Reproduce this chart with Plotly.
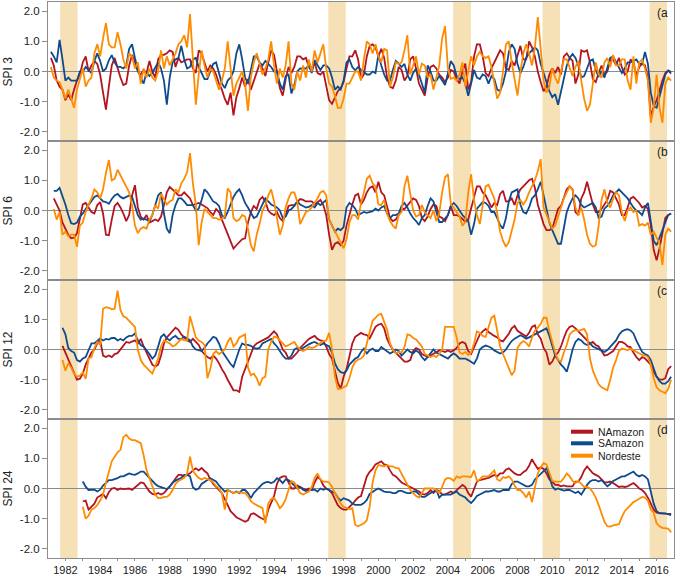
import plotly.graph_objects as go
from plotly.subplots import make_subplots

# time grid: every second month, 1981-2016
YEARS = list(range(1981, 2017))
MONTHS = [1, 3, 5, 7, 9, 11]
T = [y + (m - 1) / 12 for y in YEARS for m in MONTHS]

_ = None
# ---------------- SPI 3 ----------------
N3 = [_, 0.45, 0.2, -0.3, -0.5, -0.6,
      -0.95, -0.75, -0.95, -0.6, -0.3, -0.1,
      0.3, 0.5, 0.0, 0.2, 0.35, 0.25,
      -0.1, -0.7, -1.26, -0.5, 0.2, 0.45,
      0.1, -0.2, -0.45, -0.4, 0.2, 0.55,
      0.3, 0.0, -0.1, 0.05, -0.05, 0.35,
      0.0, -0.2, 0.4, 0.55, 0.55, 0.6,
      0.7, 0.65, 0.15, 0.45, 0.3, 0.35,
      0.4, 0.4, 0.1, -0.05, 0.7, 0.6,
      0.3, 0.0, 0.2, 0.1, -0.1, -0.4,
      -0.6, -0.9, -1.1, -0.7, -1.45, -0.85,
      -0.55, -0.2, -0.5, -0.25, -0.6, -0.3,
      0.0, 0.25, 0.1, -0.15, 0.3, 0.7,
      0.55, 0.0, -0.55, -0.8, -0.25, 0.15,
      -0.05, 0.15, 0.5, 0.5, 0.4, 0.45,
      0.15, 0.05, 0.3, -0.05, -0.1, 0.0,
      -0.5, -0.95, -1.07, -0.85, -0.65, -0.55,
      -0.35, 0.1, 0.5, 0.5, 0.7, 0.4,
      -0.25, -0.1, 0.5, 0.85, 0.9, 0.8,
      0.5, 0.75, 0.45, -0.2, -0.5, -0.55,
      -0.3, 0.15, 0.05, -0.3, -0.15, 0.4,
      0.5, 0.1, -0.4, -0.6, -0.8, -0.2,
      0.15, 0.2, 0.1, -0.1, -0.2, -0.35,
      -0.2, 0.05, 0.0, -0.25, -0.4, 0.0,
      0.26, -0.6, -0.35, 0.5, 0.9, 0.9,
      0.5, -0.05, -0.15, 0.1, 0.3, 0.5,
      0.7, 0.6, 0.1, 0.05, 0.35, 0.2,
      0.55, 0.85, 0.4, 0.4, 1.0, 0.8,
      0.5, 0.0, -0.35, -0.65, -0.5, -0.1,
      0.1, -0.05, 0.15, -0.1, 0.5, 0.6,
      0.45, 0.35, -0.4, -0.1, 0.7, 0.65,
      0.7, 0.3, -0.25, -0.35, -0.05, 0.2,
      -0.1, 0.0, 0.4, 0.4, 0.2, 0.45,
      0.15, -0.1, 0.0, 0.4, 0.3, -0.15,
      0.15, 0.25, 0.2, -0.2, -1.5, -1.17,
      -0.95, -0.6, -0.3, -0.05, 0.03, -0.07]
S3 = [_, 0.65, 0.5, 0.3, 1.05, 0.4,
      -0.3, -0.2, -0.3, -0.3, -0.3, 0.0,
      0.0, 0.15, 0.04, -0.05, 0.35, 0.6,
      0.35, 0.0, 0.1, 0.37, 0.54, 0.3,
      0.15, 0.15, 0.1, 0.2, 0.75, 0.9,
      0.45, 0.05, -0.2, -0.4, 0.0, -0.15,
      -0.05, 0.15, 0.3, 0.1, -0.3, -1.1,
      -0.2, 0.3, 0.4, 0.45, 0.85, 0.4,
      0.1, 0.15, 0.4, 0.45, 0.15, -0.05,
      -0.25, -0.25, 0.0, 0.25, 0.3, -0.05,
      -0.4, -0.55, -0.3, -0.2, 0.0, 0.6,
      0.9, 0.4, -0.2, -0.4, 0.1, 0.5,
      0.5, 0.3, 0.2, 0.35, 0.25, 0.15,
      0.0, 0.0, -0.4, -0.6, -0.15, -0.1,
      -0.73, -0.45, 0.0, 0.1, 0.1, 0.1,
      0.2, -0.05, 0.37, 0.2, 0.05, 0.2,
      0.2, 0.1, -0.2, -0.6, -0.5, -0.6,
      -0.3, 0.3, 0.4, 0.15, 0.04, 0.15,
      0.05, 0.0, -0.1, -0.1, 0.0, -0.05,
      0.55, 0.2, -0.1, -0.3, -0.3, 0.05,
      0.35, 0.26, 0.15, 0.25, -0.1, -0.3,
      -0.05, 0.1, -0.1, -0.4, -0.7, 0.2,
      0.0, -0.3, -0.3, -0.15, -0.3, -0.45,
      -0.05, 0.35, 0.2, -0.15, -0.25, -0.2,
      -0.4, -0.8, -0.4, 0.05, -0.2, -0.25,
      -0.1, -0.15, -0.4, -0.15, -0.25, -0.6,
      -0.65, -0.4, 0.0, 0.65, 0.9, 0.75,
      0.25, -0.05, 0.15, 0.45, 0.6, 0.7,
      0.8, 0.7, 0.25, -0.05, -0.35, -0.65,
      -0.85, -0.75, -1.1, -0.7, -0.2, 0.2,
      0.45, 0.58, 0.45, 0.2, -0.2, -0.15,
      0.1, 0.35, 0.4, 0.05, -0.18, 0.02,
      -0.2, 0.1, 0.45, 0.5, 0.3, 0.15,
      -0.05, 0.1, 0.3, 0.3, 0.35, 0.4,
      0.25, 0.25, 0.65, 0.25, -0.7, -1.15,
      -1.2, -0.8, -0.45, -0.1, 0.03, -0.01]
E3 = [_, 0.15, -0.2, -0.3, -0.35, -0.6,
      -0.9, -0.6, -0.9, -1.2, -0.6, -0.2,
      0.1, -0.5, -0.3, -0.2, 0.6, 0.9,
      0.5, 1.1, 1.6, 0.9, 0.8, 0.8,
      1.3, 0.9, 0.4, 0.1, 0.6, 0.5,
      0.1, 0.3, -0.4, 0.1, -0.2, 0.1,
      -0.2, -0.3, 0.0, 0.7, 0.1, 0.5,
      0.2, 0.4, 0.6, 0.9, 1.0, 1.2,
      0.8, 1.9, 0.3, -1.1, -0.1, 0.7,
      0.2, -0.2, 0.1, 0.0, -0.3, -0.6,
      -0.3, 0.1, 1.0, 0.2, -0.8, -0.4,
      -0.2, 0.0, -0.4, -1.3, -0.2, 0.3,
      0.6, 0.3, -0.1, 0.1, 0.4, 1.0,
      0.2, -0.4, 0.1, -0.2, 0.2, 1.0,
      -0.4, -0.6, 0.0, -0.3, 0.2, -0.2,
      0.4, 0.0, 0.7, 0.3, 0.6, 0.9,
      0.1, -0.4, -0.5, -0.8, -1.2, -1.2,
      -0.9, -0.4, -0.4, -0.2, 0.0, 0.0,
      -0.3, 0.4, 1.0, 0.9, 0.6, 0.9,
      0.5, 0.3, 0.75, 0.7, -0.5, -0.2,
      0.3, 0.25, 0.3, 0.7, 1.2, -0.1,
      0.2, 0.5, -0.1, 0.26, 0.2, -0.2,
      -0.1, -0.6, -0.2, 0.2, 1.1, 1.5,
      0.1, -0.25, -0.2, -0.3, -0.1, 0.3,
      -0.5, -0.05, 0.5, 0.2, 0.5, 0.65,
      0.5, 0.45, 0.5, 0.15, -0.35, -0.9,
      -0.7, 0.0, 0.9, 1.0, 0.3, -0.3,
      -0.8, 0.0, 0.6, 0.9, 0.6, 0.2,
      0.8, 1.8, 0.6, -0.3, -0.7, -0.5,
      0.1, -0.2, -0.4, 0.0, 0.4, 0.4,
      0.1, -0.15, 0.15, 0.35, -0.3, -0.9,
      -1.3, -1.1, -0.4, 0.3, -0.1, -0.2,
      0.3, 0.45, 0.15, 0.55, 0.2, 0.2,
      0.4, 0.4, -0.3, -0.6, 0.5, -0.4,
      0.3, 0.4, 0.1, -0.3, -1.7, -1.2,
      -0.1, -1.2, -1.7, -0.4, -0.2, -0.3]

# ---------------- SPI 6 ----------------
N6 = [_, _, 0.4, 0.2, 0.0, -0.4,
      -0.6, -0.8, -0.92, -0.9, -0.75, -0.3,
      0.2, 0.25, 0.1, -0.05, -0.1, 0.18,
      0.28, -0.1, -0.8, -0.82, -0.3, 0.15,
      0.25, 0.1, -0.1, -0.35, -0.15, 0.5,
      0.84, 0.1, -0.2, -0.3, -0.15, -0.4,
      -0.35, -0.3, -0.35, -0.2, 0.18, 0.6,
      0.78, 0.7, 0.6, 0.5, 0.5, 0.6,
      0.5, 0.4, 0.18, 0.22, 0.25, 0.2,
      0.15, 0.08, -0.05, -0.15, 0.05, -0.05,
      -0.3, -0.55, -0.8, -1.05, -1.26, -1.15,
      -1.05, -0.95, -0.92, -0.4, -0.05, 0.15,
      0.05, 0.35, 0.45, 0.3, 0.0, -0.1,
      -0.15, -0.05, -0.25, -0.35, -0.15, 0.15,
      0.18, 0.18, 0.28, 0.38, 0.35, 0.3,
      0.3, 0.3, 0.2, 0.28, 0.35, 0.18,
      -0.15, -0.8, -1.3, -1.1, -1.05, -1.15,
      -1.0, -0.5, -0.1, 0.2, 0.5, 0.55,
      0.2, 0.35, 0.6, 0.75, 0.8, 0.6,
      0.95, 0.6, 0.5, 0.1, -0.25, -0.35,
      -0.3, -0.15, 0.05, 0.05, 0.18, 0.28,
      0.4, 0.35, 0.15, -0.25, -0.35, -0.2,
      0.05, 0.2, 0.15, -0.2, -0.25, -0.35,
      -0.15, 0.15, -0.15, -0.15, -0.2, -0.28,
      -0.38, -0.3, 0.1, 0.45, 0.8, 0.8,
      0.6, 0.5, 0.3, 0.1, 0.25, 0.18,
      0.55, 0.65, 0.3, 0.3, 0.4, 0.18,
      0.5, 0.7, 0.8, 0.9, 1.0, 1.05,
      0.75, 0.2, -0.1, -0.45, -0.65, -0.65,
      -0.6, -0.3, 0.05, 0.15, 0.45, 0.7,
      0.8, 0.7, -0.05, -0.15, 0.4, 0.6,
      0.95, 0.6, 0.2, -0.05, -0.05, 0.05,
      0.18, 0.35, 0.65, 0.6, 0.4, 0.2,
      -0.15, -0.15, 0.1, 0.4, 0.45, 0.35,
      0.25, 0.1, 0.15, 0.05, -0.5, -1.3,
      -1.65, -1.25, -0.75, -0.25, -0.15, -0.1]
S6 = [_, _, 0.65, 0.65, 0.75, 0.5,
      0.2, -0.15, -0.42, -0.45, -0.4, -0.2,
      -0.1, 0.05, 0.18, 0.28, 0.45, 0.5,
      0.4, 0.3, 0.28, 0.22, 0.38, 0.5,
      0.55, 0.45, 0.4, 0.45, 0.5, 0.45,
      0.18, -0.15, -0.3, -0.27, -0.3, -0.37,
      -0.15, 0.18, 0.5, 0.6, -0.1, -0.6,
      -0.75, -0.15, 0.18, 0.4, 0.4, 0.3,
      0.18, 0.18, 0.18, 0.0, 0.06, 0.35,
      0.7, 0.6, 0.45, 0.3, 0.25, 0.15,
      -0.15, -0.25, -0.05, 0.2, 0.45, 0.6,
      0.7, 0.5, 0.25, 0.1, -0.1, -0.25,
      -0.2, 0.0, 0.18, 0.4, 0.3, 0.2,
      0.15, 0.1, 0.0, -0.25, -0.2, 0.0,
      0.05, 0.15, 0.3, 0.2, 0.15, 0.1,
      0.12, 0.18, 0.1, 0.25, 0.18, 0.25,
      0.35, -0.3, -0.5, -0.7, -0.6, -0.65,
      -0.55, 0.1, 0.25, 0.18, 0.06, -0.15,
      -0.1, -0.05, -0.08, -0.05, -0.02, 0.06,
      0.0, 0.1, 0.15, -0.1, -0.25, -0.15,
      -0.15, -0.1, 0.15, 0.25, 0.1, -0.1,
      -0.25, -0.35, -0.48, -0.25, -0.15, 0.15,
      0.4, 0.3, 0.0, -0.38, -0.38, -0.28,
      -0.15, 0.15, 0.25, 0.15, 0.0, -0.15,
      -0.25, -0.35, -0.8, -0.45, 0.06, 0.18,
      0.28, 0.25, 0.15, -0.05, -0.05, -0.25,
      -0.48, -0.6, -0.25, 0.3, 0.6, 0.65,
      0.7, 0.2, -0.05, -0.1, 0.1, 0.4,
      0.5, 0.7, 0.95, 0.5, 0.0, -0.4,
      -0.65, -0.85, -1.1, -1.1, -0.5, -0.05,
      0.2, 0.4, 0.5, 0.4, 0.18, 0.1,
      0.15, 0.2, 0.25, 0.1, -0.25, -0.2,
      0.06, 0.15, 0.3, 0.5, 0.6, 0.7,
      0.6, 0.5, 0.4, 0.25, 0.1, 0.0,
      -0.05, -0.15, 0.1, 0.25, -0.4, -1.0,
      -1.15, -0.9, -0.6, -0.35, -0.15, -0.1]
E6 = [_, _, 0.05, -0.3, -0.05, -0.8,
      -0.7, -0.85, -0.8, -0.8, -1.2, -0.5,
      -0.4, -0.05, 0.2, 0.4, 0.7, 0.6,
      0.4, 0.7, 1.25, 1.67, 1.0, 1.05,
      1.35, 1.15, 0.95, 0.8, 0.6, 0.18,
      -0.5, -0.75, -0.6, -0.55, -0.6, -0.3,
      -0.15, 0.18, 0.06, 0.55, 0.35, 0.2,
      0.3, 0.35, 0.7, 0.6, 0.9, 1.05,
      1.27, 1.9, 0.9, 0.2, -1.15, -0.4,
      0.05, -0.05, -0.15, -0.25, -0.25, -0.3,
      -0.28, -0.2, 0.73, 0.6, -0.25, -0.35,
      -0.3, -0.15, -0.2, -0.6, -1.15, -1.35,
      -0.8, -0.45, 0.0, 0.18, 0.5, 0.7,
      0.3, -0.2, -0.8, -0.5, 0.1, 0.4,
      0.6, 0.6, 0.3, -0.45, -0.25, -0.05,
      0.0, 0.1, 0.25, 0.4, 0.6, 0.65,
      0.5, -0.3, -0.5, -0.7, -0.9, -1.1,
      -1.25, -0.95, -0.4, -0.15, -0.15, -0.3,
      0.25, 0.6, 1.05, 1.15, 0.9, 0.8,
      0.2, 0.18, 0.35, -0.1, -0.35, -0.5,
      -0.6, -0.15, -0.05, 0.8, 1.15, 0.55,
      0.0, -0.2, -0.15, 0.18, -0.05, -0.15,
      -0.25, 0.0, -0.35, -0.1, 0.6, 1.1,
      1.2, 0.2, 0.1, -0.05, -0.2, -0.5,
      -0.38, 0.6, 1.2, 0.35, -0.15, -0.45,
      0.2, 0.8, 0.85, 0.65, 0.4, -0.1,
      -0.7, -1.0, -1.2, -1.05, -0.7, -0.3,
      0.25, 0.35, 0.2, 0.35, 0.6, 0.8,
      1.0, 1.3, 1.7, 0.1, -0.15, -0.35,
      -0.6, -0.5, -0.2, 0.15, 0.4, 0.6,
      0.8, 0.7, 0.1, -0.15, 0.1, -0.3,
      -0.8, -1.1, -1.2, -1.15, -0.5, 0.35,
      0.7, 0.25, 0.1, 0.4, 0.6, 0.5,
      -0.05, -0.35, 0.0, 0.1, -0.05, 0.0,
      -0.5, -0.45, -0.5, -0.4, -0.8, -0.7,
      -0.9, -1.1, -1.8, -0.8, -0.6, -0.7]

# ---------------- SPI 12 ----------------
N12 = [_, _, _, _, _, 0.12,
       -0.1, -0.3, -0.55, -0.8, -1.0, -0.97,
       -0.8, -0.5, -0.3, -0.1, 0.0, 0.2,
       0.3, -0.2, -0.25, -0.2, -0.25, -0.15,
       -0.12, 0.0, 0.15, 0.25, 0.22, 0.25,
       0.3, 0.2, 0.35, 0.1, -0.1, -0.3,
       -0.5, -0.57, -0.5, -0.2, 0.2, 0.4,
       0.5, 0.62, 0.72, 0.65, 0.5, 0.4,
       0.3, 0.25, 0.35, 0.25, 0.15, -0.05,
       -0.15, -0.25, -0.3, -0.2, -0.3, -0.45,
       -0.65, -0.8, -1.0, -1.2, -1.35, -1.35,
       -1.4, -0.9, -0.65, -0.4, -0.1, 0.1,
       0.2, 0.25, 0.3, 0.37, 0.4, 0.5,
       0.6, 0.5, 0.25, 0.0, -0.1, -0.3,
       -0.3, -0.2, -0.1, 0.05, 0.15, 0.25,
       0.35, 0.4, 0.45, 0.35, 0.3, 0.28,
       0.1, -0.15, -0.3, -0.7, -1.1, -1.3,
       -0.9, -0.65, -0.2, 0.2, 0.42, 0.5,
       0.55, 0.5, 0.48, 0.37, 0.55, 0.75,
       0.82, 0.85, 0.7, 0.35, 0.15, 0.0,
       -0.1, -0.2, -0.3, -0.4, -0.4, -0.35,
       -0.05, 0.05, 0.0, -0.15, -0.2, -0.25,
       -0.2, -0.15, -0.1, -0.03, -0.05, -0.08,
       -0.03, -0.08, -0.03, 0.05, 0.2, 0.25,
       0.2, -0.05, -0.15, 0.05, 0.3, 0.5,
       0.6, 0.68, 0.58, 0.5, 0.45, 0.4,
       0.3, 0.27, 0.38, 0.52, 0.7, 0.78,
       0.62, 0.55, 0.48, 0.43, 0.55, 0.75,
       0.8, 0.5, 0.36, 0.05, -0.1, -0.5,
       -0.4, -0.2, -0.1, 0.1, 0.38, 0.62,
       0.75, 0.78, 0.7, 0.6, 0.52, 0.42,
       0.3, 0.2, 0.25, 0.15, 0.1, -0.05,
       -0.2, -0.18, -0.12, -0.05, 0.1, 0.25,
       0.25, 0.2, 0.1, 0.08, -0.1, -0.25,
       -0.35, -0.25, -0.3, -0.4, -0.5, -0.75,
       -0.9, -1.0, -1.0, -0.95, -0.65, -0.55]
S12 = [_, _, _, _, _, 0.72,
       0.5, 0.05, -0.05, -0.1, -0.35, -0.4,
       -0.3, -0.25, 0.0, 0.2, 0.2, 0.3,
       0.37, 0.3, 0.35, 0.33, 0.38, 0.38,
       0.3, 0.35, 0.3, 0.4, 0.45, 0.45,
       0.53, 0.3, 0.15, 0.09, -0.02, -0.15,
       -0.3, -0.2, 0.1, 0.42, 0.5, 0.37,
       0.3, 0.4, 0.45, 0.35, 0.35, 0.42,
       0.37, 0.3, 0.1, 0.0, -0.02, -0.05,
       0.05, 0.2, 0.3, 0.42, 0.38, 0.2,
       -0.05, -0.2, -0.35, -0.48, -0.58, -0.3,
       0.0, 0.2, 0.15, 0.15, 0.12, 0.05,
       0.03, 0.05, 0.2, 0.25, 0.3, 0.35,
       0.2, 0.1, -0.05, -0.2, -0.3, -0.3,
       -0.2, 0.0, 0.05, -0.02, 0.05, 0.12,
       0.17, 0.22, 0.25, 0.2, 0.15, 0.2,
       0.15, 0.1, -0.1, -0.45, -0.65, -0.75,
       -0.78, -0.7, -0.5, -0.4, -0.3, -0.25,
       -0.08, 0.03, -0.13, -0.02, 0.03, -0.05,
       -0.05, 0.08, 0.0, -0.08, -0.13, -0.08,
       0.0, -0.05, -0.2, -0.1, 0.0, -0.08,
       -0.13, -0.03, -0.1, -0.25, -0.35, -0.25,
       -0.13, 0.0, -0.1, -0.15, -0.22, -0.25,
       -0.3, -0.2, -0.13, -0.2, -0.3, -0.3,
       -0.3, -0.35, -0.4, -0.47, -0.3, 0.0,
       0.08, 0.13, 0.1, 0.05, -0.03, -0.08,
       -0.13, -0.1, 0.0, 0.15, 0.28, 0.36,
       0.42, 0.47, 0.42, 0.36, 0.4, 0.45,
       0.5, 0.53, 0.58, 0.64, 0.7, 0.45,
       0.1, -0.2, -0.35, -0.5, -0.6, -0.74,
       -0.4, 0.0, 0.25, 0.35, 0.3, 0.2,
       0.15, 0.2, 0.1, 0.05, 0.0, -0.05,
       -0.08, -0.02, 0.09, 0.2, 0.3, 0.48,
       0.6, 0.65, 0.67, 0.63, 0.53, 0.3,
       0.1, -0.08, -0.15, -0.2, -0.35, -0.65,
       -0.9, -1.05, -1.13, -1.13, -1.05, -0.9]
E12 = [_, _, _, _, _, -0.35,
       -0.7, -0.45, -0.6, -0.8, -0.9, -0.87,
       -0.75, -0.97, -0.3, -0.25, 0.05, 0.25,
       0.15, 1.35, 1.4, 1.38, 1.33, 1.35,
       1.95, 1.3, 1.1, 1.05, 0.95, 0.85,
       0.75, 0.0, -0.35, -0.5, -0.6, -0.7,
       -0.8, -0.55, -0.3, 0.1, 0.3, 0.25,
       0.2, 0.1, 0.15, 0.25, 0.35, 0.3,
       0.3, 1.1, 0.7, 0.4, 0.3, 0.25,
       0.15, -0.95, -0.65, -0.15, -0.05, -0.15,
       -0.08, 0.0, 0.25, 0.4, 0.1, 0.2,
       0.4, 0.45, 0.5, -0.6, -0.85, -0.8,
       -0.95, -1.2, -0.95, -0.9, 0.0, 0.25,
       0.42, 0.4, 0.3, 0.2, 0.1, 0.15,
       0.2, 0.25, 0.1, 0.0, -0.05, 0.0,
       0.08, 0.05, 0.08, 0.15, 0.22, 0.28,
       0.3, 0.55, 0.0, -0.9, -1.3, -1.3,
       -1.25, -1.2, -0.95, -0.6, -0.4, -0.33,
       -0.3, -0.2, 0.2, 0.6, 0.95, 1.05,
       1.15, 1.18, 0.9, 0.65, 0.2, 0.0,
       -0.13, -0.08, -0.1, 0.08, 0.5, 0.47,
       0.38, 0.33, 0.22, 0.1, -0.15, -0.2,
       -0.25, -0.2, -0.25, -0.15, 0.0, 0.75,
       0.75, 0.75, 0.75, 0.4, -0.1, -0.15,
       -0.08, -0.18, -0.1, 0.2, 0.6, 0.55,
       0.45, 0.42, 0.75, 1.05, 1.12, 0.6,
       0.1, -0.15, -0.4, -0.65, -0.85, -0.7,
       0.05, 0.2, 0.28, 0.22, 0.1, 0.4,
       0.62, 0.72, 0.85, 1.05, 1.05, 0.6,
       0.2, -0.1, -0.35, -0.4, -0.1, 0.15,
       0.5, 0.6, 0.65, 0.62, 0.65, 0.68,
       0.5, -0.3, -0.7, -0.95, -1.15, -1.25,
       -1.3, -1.35, -1.0, -0.6, -0.35, -0.05,
       0.03, 0.0, -0.02, 0.03, -0.02, -0.08,
       -0.13, -0.18, -0.2, -0.25, -0.5, -0.95,
       -1.25, -1.35, -1.4, -1.45, -1.3, -1.0]

# ---------------- SPI 24 ----------------
N24 = [_, _, _, _, _, _,
       _, _, _, _, _, _,
       -0.43, -0.4, -0.7, -0.6, -0.5, -0.3,
       -0.25, -0.18, -0.32, -0.12, 0.0, 0.02,
       -0.05, 0.0, -0.02, 0.0, 0.0, -0.05,
       0.03, 0.1, 0.2, 0.18, 0.05, -0.1,
       -0.18, -0.2, -0.15, -0.2, -0.15, -0.05,
       0.05, 0.18, 0.33, 0.45, 0.45, 0.4,
       0.45, 0.5, 0.6, 0.67, 0.6, 0.68,
       0.58, 0.5, 0.3, 0.15, 0.05, -0.05,
       -0.15, -0.35, -0.55, -0.75, -0.85, -0.95,
       -1.0, -1.04, -1.1, -1.05, -0.85, -0.82,
       -0.9, -0.95, -1.0, -1.05, -0.7, -0.45,
       -0.25, 0.15, 0.35, 0.4, 0.4, 0.2,
       0.0, 0.0, 0.1, 0.05, 0.0, -0.05,
       0.0, -0.05, 0.2, 0.38, 0.3, 0.1,
       0.0, -0.05, -0.15, -0.35, -0.55, -0.65,
       -0.7, -0.7, -0.62, -0.52, -0.4, -0.3,
       -0.25, 0.05, 0.4, 0.55, 0.65, 0.8,
       0.85, 0.9, 0.8, 0.78, 0.6, 0.45,
       0.4, 0.3, 0.2, 0.15, 0.1, 0.05,
       0.0, -0.03, -0.1, -0.18, -0.2, -0.15,
       -0.05, -0.15, -0.05, -0.08, -0.2, -0.2,
       -0.15, -0.1, -0.15, -0.05, 0.05, 0.12,
       0.05, -0.15, -0.27, -0.05, 0.23, 0.28,
       0.3, 0.33, 0.35, 0.4, 0.45, 0.4,
       0.5, 0.5, 0.62, 0.67, 0.58, 0.5,
       0.45, 0.45, 0.54, 0.6, 0.75, 0.97,
       0.8, 0.65, 0.7, 0.65, 0.5, 0.3,
       0.22, 0.12, 0.12, 0.07, 0.1, 0.07,
       0.07, 0.07, 0.23, 0.23, 0.38, 0.6,
       0.73, 0.62, 0.5, 0.45, 0.4, 0.3,
       0.2, 0.2, 0.23, 0.18, 0.12, 0.05,
       0.07, 0.05, 0.07, 0.12, 0.18, 0.1,
       0.0, -0.05, -0.15, -0.3, -0.5, -0.7,
       -0.8, -0.82, -0.82, -0.83, -0.84, -0.84]
S24 = [_, _, _, _, _, _,
       _, _, _, _, _, _,
       0.23, 0.06, -0.05, -0.04, -0.04, -0.1,
       -0.04, 0.1, 0.2, 0.28, 0.28, 0.3,
       0.34, 0.4, 0.4, 0.45, 0.5, 0.47,
       0.45, 0.5, 0.56, 0.56, 0.45, 0.35,
       0.25, 0.15, 0.08, 0.04, 0.0, -0.02,
       0.06, 0.2, 0.26, 0.3, 0.35, 0.45,
       0.45, 0.4, 0.04, -0.04, 0.0, 0.15,
       0.23, 0.28, 0.34, 0.28, 0.23, 0.1,
       0.0, -0.1, -0.05, -0.1, -0.15, -0.1,
       -0.15, -0.05, -0.05, -0.15, -0.32, -0.15,
       -0.05, 0.05, 0.15, 0.2, 0.22, 0.18,
       0.22, 0.34, 0.28, 0.18, 0.3, 0.28,
       0.2, 0.1, 0.0, 0.05, -0.04, -0.08,
       -0.05, -0.04, -0.04, -0.1, 0.0, -0.04,
       0.0, -0.06, -0.1, -0.15, -0.3, -0.4,
       -0.32, -0.37, -0.4, -0.5, -0.54, -0.54,
       -0.54, -0.48, -0.38, -0.18, -0.1, -0.05,
       0.0, -0.05, -0.1, -0.12, -0.12, -0.15,
       -0.15, -0.08, -0.08, -0.12, -0.15, -0.15,
       -0.1, -0.1, -0.18, -0.28, -0.28, -0.2,
       -0.15, -0.1, -0.05, -0.3, -0.2, -0.2,
       -0.2, -0.2, -0.15, -0.1, -0.2, -0.24,
       -0.3, -0.4, -0.48, -0.38, -0.25, -0.2,
       -0.15, -0.1, -0.1, -0.07, -0.05, -0.1,
       -0.1, -0.05, -0.05, -0.05, 0.15, 0.23,
       0.23, 0.18, 0.12, 0.07, 0.07, 0.12,
       0.3, 0.4, 0.5, 0.6, 0.67, 0.4,
       0.07, -0.04, 0.0, -0.04, -0.07, -0.05,
       -0.05, -0.1, -0.15, -0.1, -0.2, -0.05,
       0.12, 0.23, 0.28, 0.28, 0.23, 0.28,
       0.18, 0.07, 0.15, 0.25, 0.3, 0.34,
       0.4, 0.4, 0.45, 0.5, 0.56, 0.45,
       0.4, 0.45, 0.4, 0.3, -0.1, -0.5,
       -0.75, -0.82, -0.82, -0.82, -0.85, -0.88]
E24 = [_, _, _, _, _, _,
       _, _, _, _, _, _,
       -0.6, -1.0, -0.9, -0.7, -0.65, -0.55,
       -0.4, -0.2, 0.2, 0.6, 0.9, 1.05,
       1.2, 1.28, 1.7, 1.78, 1.65, 1.6,
       1.6, 1.55, 1.5, 1.1, 0.6, 0.35,
       0.1, -0.2, -0.32, -0.32, -0.28, -0.28,
       -0.2, -0.05, 0.15, 0.25, 0.3, 0.35,
       0.5, 1.05, 0.6, 0.45, 0.35, 0.3,
       0.35, 0.32, 0.28, 0.2, 0.08, 0.0,
       -0.15, -0.7, -0.05, -0.1, -0.15, -0.12,
       -0.13, -0.15, -0.15, -0.25, -0.42, -0.5,
       -0.55, -0.6, -0.65, -1.15, -0.5, -0.35,
       -0.32, -0.45, -0.65, -0.55, -0.35, -0.05,
       0.25, 0.2, 0.0, -0.15, -0.2, -0.15,
       -0.1, 0.05, 0.35, 0.5, 0.3, 0.23,
       0.23, 0.2, 0.05, -0.15, -0.35, -0.5,
       -0.6, -0.63, -0.68, -0.65, -1.2, -1.25,
       -1.2, -1.15, -1.05, -0.6, 0.2, 0.6,
       0.78, 0.75, 0.73, 0.78, 0.73, 0.73,
       0.68, 0.67, 0.5, 0.3, 0.15, -0.05,
       -0.15, -0.25, -0.3, -0.15, 0.0, 0.0,
       0.0, 0.0, -0.05, -0.15, 0.05, 0.3,
       0.35, 0.33, 0.25, 0.4, 0.35, 0.4,
       0.4, 0.38, 0.38, 0.6, 0.25, 0.3,
       0.4, 0.4, 0.4, 0.5, 0.6, 0.3,
       0.25, 0.38, 0.35, 0.4, 0.3, 0.1,
       -0.05, -0.05, -0.15, -0.3, -0.1, -0.45,
       0.0, 0.5, 0.7, 0.84, 0.8, 0.5,
       0.25, 0.23, 0.23, 0.23, 0.35, 0.5,
       0.4, 0.25, 0.18, 0.25, 0.15, 0.05,
       0.05, 0.0, -0.12, -0.3, -0.55, -0.8,
       -1.1, -1.25, -1.26, -1.22, -1.2, -1.18,
       -0.95, -0.75, -0.65, -0.55, -0.45, -0.4,
       -0.33, -0.28, -0.3, -0.4, -0.7, -0.8,
       -1.15, -1.25, -1.3, -1.32, -1.33, -1.45]

SERIES_NAMES = ["NAmazon", "SAmazon", "Nordeste"]
SERIES_COLORS = ["#B3141E", "#0E4B8E", "#FF8C00"]
PANEL_TITLES = ["SPI 3", "SPI 6", "SPI 12", "SPI 24"]
PANEL_TAGS = ["(a", "(b", "(c", "(d"]
PANEL_DATA = [(N3, S3, E3), (N6, S6, E6), (N12, S12, E12), (N24, S24, E24)]
BANDS = [(1981.70, 1982.70), (1997.12, 1998.12), (2004.30, 2005.32),
         (2009.44, 2010.44), (2015.60, 2016.60)]
X_TICKS = list(range(1982, 2017))
X_LABELS = [str(y) if y % 2 == 0 else "" for y in X_TICKS]
Y_TICKS = [-2, -1, 0, 1, 2]
Y_LABELS = ["-2.0", "-1.0", "0.0", "1.0", "2.0"]

FONT = "Liberation Sans, Arial, sans-serif"
FRAME = "#8C8C8C"
TXT = "#222222"

fig = make_subplots(rows=4, cols=1, shared_xaxes=True, vertical_spacing=0)

for r, series in enumerate(PANEL_DATA, start=1):
    for name, color, vals in zip(SERIES_NAMES, SERIES_COLORS, series):
        fig.add_trace(go.Scatter(x=T, y=vals, mode="lines", name=name,
                                 line=dict(color=color, width=1.8),
                                 showlegend=False, connectgaps=False),
                      row=r, col=1)

for x0, x1 in BANDS:
    fig.add_shape(type="rect", xref="x", yref="paper", x0=x0, x1=x1, y0=0, y1=1,
                  fillcolor="#F6E0B5", line_width=0, layer="below")

for r in range(1, 5):
    fig.update_xaxes(range=[1981, 2017], showline=True, mirror=True,
                     linecolor=FRAME, linewidth=1, showgrid=False, zeroline=False,
                     tickvals=X_TICKS, ticktext=X_LABELS, automargin=False,
                     ticks="outside" if r == 4 else "", ticklen=2, tickcolor=FRAME,
                     showticklabels=(r == 4),
                     tickfont=dict(family=FONT, size=11, color=TXT),
                     row=r, col=1)
    fig.update_yaxes(range=[-2.3, 2.3], showline=True, mirror=True,
                     linecolor=FRAME, linewidth=1, showgrid=False,
                     zeroline=True, zerolinecolor=FRAME, zerolinewidth=1,
                     tickvals=Y_TICKS, ticktext=Y_LABELS, ticks="outside",
                     ticklen=5, tickcolor=FRAME, automargin=False,
                     tickfont=dict(family=FONT, size=11.5, color=TXT),
                     row=r, col=1)

W, H = 675, 576
ML, MR, MT, MB = 48, 1, 2, 18
PW, PH = W - ML - MR, H - MT - MB


def px_x(px):
    return (px - ML) / PW


def px_y(py):
    return 1 - (py - MT) / PH


annotations = []
for i, (title, tag) in enumerate(zip(PANEL_TITLES, PANEL_TAGS)):
    top = 1 - i * 0.25
    annotations.append(dict(text=title, xref="paper", yref="paper",
                            x=px_x(7), y=top - 0.125, xanchor="center",
                            yanchor="middle", textangle=-90, showarrow=False,
                            font=dict(family=FONT, size=12, color=TXT)))
    annotations.append(dict(text=tag, xref="paper", yref="paper",
                            x=px_x(655), y=top - 11 / PH, xanchor="left",
                            yanchor="middle", showarrow=False,
                            font=dict(family=FONT, size=12, color=TXT)))

legend_y = [431.7, 443.3, 455.7]
for name, color, ly in zip(SERIES_NAMES, SERIES_COLORS, legend_y):
    fig.add_shape(type="line", xref="paper", yref="paper",
                  x0=px_x(571), x1=px_x(593), y0=px_y(ly), y1=px_y(ly),
                  line=dict(color=color, width=4))
    annotations.append(dict(text=name, xref="paper", yref="paper",
                            x=px_x(596), y=px_y(ly), xanchor="left",
                            yanchor="middle", showarrow=False,
                            font=dict(family=FONT, size=10.5, color=TXT)))

fig.update_layout(width=W, height=H,
                  margin=dict(l=ML, r=MR, t=MT, b=MB, pad=0, autoexpand=False),
                  paper_bgcolor="white", plot_bgcolor="white",
                  showlegend=False, annotations=annotations,
                  font=dict(family=FONT, color=TXT))

fig.write_html("out.html",
               config={"displayModeBar": False},
               post_script="document.body.style.margin='0';"
                           "document.body.style.overflow='hidden';")
